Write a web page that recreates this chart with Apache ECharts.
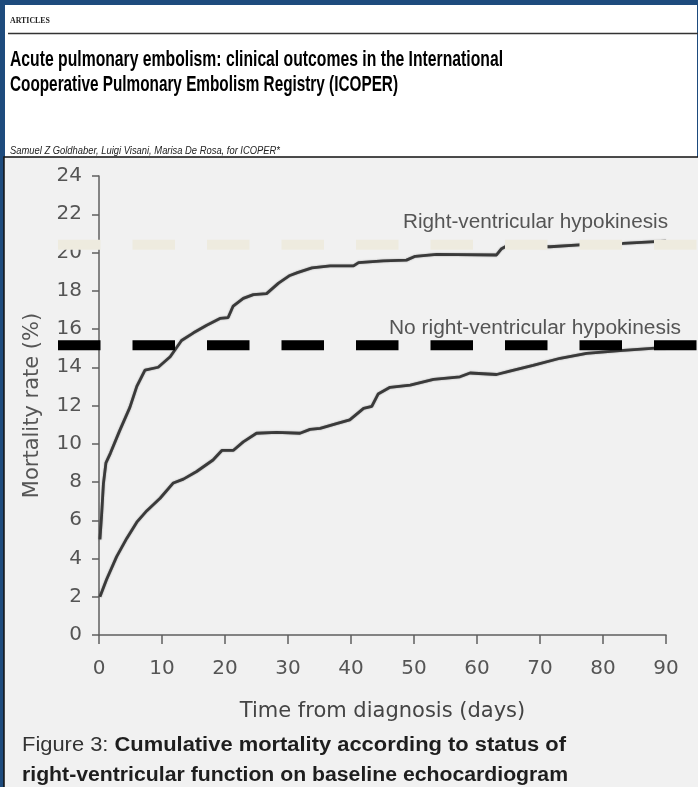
<!DOCTYPE html>
<html>
<head>
<meta charset="utf-8">
<script src="https://cdn.jsdelivr.net/npm/echarts@6/dist/echarts.min.js"></script>
<style>
  html, body { margin: 0; padding: 0; background: #1e4b7d; }
  #chart { width: 698px; height: 787px; }
</style>
</head>
<body>
<div id="chart"></div>
<script>
// Cumulative mortality (%) against days from diagnosis, by baseline echocardiogram status
const rvDays = [0.15, 0.4, 0.7, 1.1, 1.8, 3.3, 4.9, 6.0, 7.3, 9.4, 11.3, 13.1, 15.0, 17.1, 19.2, 20.5, 21.3, 22.9, 24.5, 26.6, 28.5, 30.3, 31.5, 33.8, 36.7, 40.4, 41.2, 45.1, 48.8, 50.2, 53.6, 63.1, 63.9, 64.7, 71.6, 76.3, 83.2, 88.3, 90];
const rvMortality = [5.0, 6.2, 7.9, 9.0, 9.5, 10.7, 11.9, 13.0, 13.85, 14.0, 14.55, 15.4, 15.8, 16.2, 16.55, 16.6, 17.2, 17.6, 17.8, 17.85, 18.4, 18.8, 18.95, 19.2, 19.3, 19.3, 19.47, 19.56, 19.6, 19.8, 19.9, 19.87, 20.2, 20.34, 20.3, 20.4, 20.48, 20.57, 20.6];

const noRvDays = [0.15, 1.2, 2.8, 4.4, 6.0, 7.6, 9.7, 11.8, 13.4, 15.5, 18.1, 19.5, 21.3, 22.9, 25.0, 28.2, 31.9, 33.5, 35.1, 37.7, 39.8, 42.0, 43.3, 44.3, 46.2, 49.4, 53.1, 57.3, 58.9, 63.1, 65.2, 68.9, 73.2, 77.4, 82.7, 88.3, 90];
const noRvMortality = [2.0, 2.9, 4.1, 5.05, 5.9, 6.5, 7.15, 7.95, 8.15, 8.55, 9.15, 9.65, 9.65, 10.1, 10.55, 10.6, 10.55, 10.75, 10.8, 11.05, 11.25, 11.85, 11.95, 12.6, 12.95, 13.07, 13.37, 13.5, 13.7, 13.62, 13.8, 14.1, 14.47, 14.73, 14.87, 15.0, 15.02];

// Horizontal dashed reference levels (%)
const rvReference = 20.4;
const noRvReference = 15.15;

const seriesNames = ['Right-ventricular hypokinesis', 'No right-ventricular hypokinesis'];
const xAxisTitle = 'Time from diagnosis (days)';
const yAxisTitle = 'Mortality rate (%)';
const titleLines = [
  'Acute pulmonary embolism: clinical outcomes in the International',
  'Cooperative Pulmonary Embolism Registry (ICOPER)'
];
const authors = 'Samuel Z Goldhaber, Luigi Visani, Marisa De Rosa, for ICOPER*';
const captionLead = 'Figure 3: ';
const captionLines = [
  'Cumulative mortality according to status of',
  'right-ventricular function on baseline echocardiogram'
];

// text measuring, used to squeeze condensed typefaces to their set widths
const measureCtx = document.createElement('canvas').getContext('2d');
function textWidth(text, font) {
  measureCtx.font = font;
  return measureCtx.measureText(text).width;
}
function fitScale(text, font, width) {
  return width / textWidth(text, font);
}

const pairs = (xs, ys) => xs.map((x, i) => [x, ys[i]]);

const titleFont = 'bold 22px "Liberation Sans", Arial, sans-serif';
const authorFont = 'italic 10.5px "Liberation Sans", Arial, sans-serif';
const noteFont = '20px "Liberation Sans", Arial, sans-serif';
const capRegular = '20px "Liberation Sans", Arial, sans-serif';
const capBold = 'bold 20px "Liberation Sans", Arial, sans-serif';

function textEl(x, y, text, font, fill, width, extra) {
  const sx = width ? fitScale(text, font, width) : 1;
  return Object.assign({
    type: 'text',
    x: x, y: y,
    scaleX: sx,
    silent: true,
    z: 10,
    style: {
      text: text, x: 0, y: 0, font: font, fill: fill,
      align: 'left', verticalAlign: 'middle',
      textAlign: 'left', textVerticalAlign: 'middle'
    }
  }, extra || {});
}

function captionLine(y, lead, body, width) {
  const total = (lead ? textWidth(lead, capRegular) : 0) + textWidth(body, capBold);
  const text = lead ? '{a|' + lead + '}{b|' + body + '}' : '{b|' + body + '}';
  return {
    type: 'text', x: 22, y: y, scaleX: width / total, silent: true, z: 10,
    style: {
      text: text, x: 0, y: 0,
      align: 'left', verticalAlign: 'middle',
      textAlign: 'left', textVerticalAlign: 'middle',
      rich: {
        a: { font: capRegular, fill: '#333' },
        b: { font: capBold, fill: '#1e1e1e' }
      }
    }
  };
}

const axisGray = '#5f5f5f';
const curveColor = '#3a3a3a';

const chart = echarts.init(document.getElementById('chart'), null, { renderer: 'canvas' });

chart.setOption({
  animation: false,
  backgroundColor: '#1e4b7d',
  grid: [
    { left: 99, right: 32, top: 176, bottom: 152, outerBoundsMode: 'none' },
    { left: 58, right: 0, top: 176, bottom: 152, outerBoundsMode: 'none' }
  ],
  xAxis: [
    {
      type: 'value', gridIndex: 0, min: 0, max: 90, interval: 10, offset: 7,
      axisLine: { show: true, lineStyle: { color: axisGray, width: 1.5 } },
      axisTick: { show: true, length: 9, lineStyle: { color: axisGray, width: 1.5 } },
      axisLabel: { color: '#555', fontSize: 20, fontFamily: 'DejaVu Sans', margin: 17 },
      splitLine: { show: false },
      name: xAxisTitle, nameLocation: 'middle', nameGap: 59,
      nameTextStyle: { color: '#444', fontSize: 21, fontFamily: 'DejaVu Sans' }
    },
    { type: 'value', gridIndex: 1, min: 0, max: 1, show: false }
  ],
  yAxis: [
    {
      type: 'value', gridIndex: 0, min: 0, max: 24, interval: 2, offset: 4,
      axisLine: { show: true, lineStyle: { color: axisGray, width: 1.5 } },
      axisTick: { show: true, length: 7, lineStyle: { color: axisGray, width: 1.5 } },
      axisLabel: { color: '#555', fontSize: 20, fontFamily: 'DejaVu Sans', margin: 13 },
      splitLine: { show: false },
      name: yAxisTitle, nameLocation: 'middle', nameGap: 52, nameRotate: 90,
      nameTextStyle: { color: '#555', fontSize: 21, fontFamily: 'DejaVu Sans' }
    },
    { type: 'value', gridIndex: 1, min: 0, max: 24, show: false }
  ],
  series: [
    {
      name: seriesNames[0], type: 'line', xAxisIndex: 0, yAxisIndex: 0,
      data: pairs(rvDays, rvMortality), symbol: 'none', silent: true, z: 3,
      lineStyle: { color: curveColor, width: 2.8, shadowColor: 'rgba(40,40,40,0.5)', shadowBlur: 1.5 }
    },
    {
      name: seriesNames[1], type: 'line', xAxisIndex: 0, yAxisIndex: 0,
      data: pairs(noRvDays, noRvMortality), symbol: 'none', silent: true, z: 3,
      lineStyle: { color: curveColor, width: 2.8, shadowColor: 'rgba(40,40,40,0.5)', shadowBlur: 1.5 }
    },
    {
      type: 'line', xAxisIndex: 1, yAxisIndex: 1,
      data: [[0, rvReference], [1, rvReference]], symbol: 'none', silent: true, z: 6,
      lineStyle: { color: '#eeebdf', width: 10, type: [42.5, 32], cap: 'butt' }
    },
    {
      type: 'line', xAxisIndex: 1, yAxisIndex: 1,
      data: [[0, noRvReference], [1, noRvReference]], symbol: 'none', silent: true, z: 6,
      lineStyle: { color: '#000000', width: 10, type: [42.5, 32], cap: 'butt' }
    }
  ],
  graphic: [
    // page header panel
    { type: 'rect', silent: true, z: -10, shape: { x: 5, y: 5, width: 692, height: 152 }, style: { fill: '#ffffff' } },
    // figure panel
    { type: 'rect', silent: true, z: -10, shape: { x: 4, y: 157, width: 700, height: 640 },
      style: { fill: '#f1f1f1', stroke: '#111111', lineWidth: 1.5 } },
    textEl(10, 21, 'ARTICLES', 'bold 8px "Liberation Serif", serif', '#222', 40),
    { type: 'line', silent: true, z: 10, shape: { x1: 8, y1: 33.5, x2: 698, y2: 33.5 }, style: { stroke: '#333', lineWidth: 1.5 } },
    textEl(10, 60, titleLines[0], titleFont, '#000', 493),
    textEl(10, 85, titleLines[1], titleFont, '#000', 388),
    textEl(10, 151, authors, authorFont, '#222', 270),
    // curve labels
    textEl(403, 222, seriesNames[0], noteFont, '#555', 265),
    textEl(389, 328, seriesNames[1], noteFont, '#555', 292),
    // figure caption
    captionLine(745, captionLead, captionLines[0], 544),
    captionLine(775, '', captionLines[1], 546)
  ]
});
</script>
</body>
</html>
